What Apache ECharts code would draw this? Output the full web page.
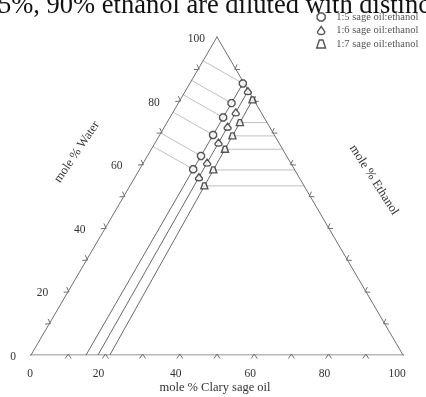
<!DOCTYPE html>
<html>
<head>
<meta charset="utf-8">
<script src="https://cdn.jsdelivr.net/npm/echarts@6/dist/echarts.min.js"></script>
<style>
html,body{margin:0;padding:0;background:#fff;overflow:hidden;}
#chart{width:426px;height:397px;}
</style>
</head>
<body>
<div id="chart"></div>
<script>
// ---- data (ternary: S = mole % Clary sage oil, W = mole % Water) ----
var seriesNames = ['1:5 sage oil:ethanol', '1:6 sage oil:ethanol', '1:7 sage oil:ethanol'];
var lineBaseSage = [14.8, 18.0, 21.2];        // where each dilution line meets the sage-oil axis
var sage15 = [14.25, 14.3, 14.3, 14.35, 14.4, 14.4];
var water15 = [85.4, 79.2, 74.7, 69.2, 62.6, 58.4];
var sage16 = [16.8, 16.9, 16.95, 17.0, 17.1, 17.2];
var water16 = [83.0, 76.3, 71.8, 66.8, 60.5, 55.9];
var sage17 = [19.45, 19.6, 19.7, 19.8, 19.9, 20.0];
var water17 = [80.2, 73.1, 68.9, 64.7, 58.2, 53.2];
var waterTickLabels = ['0', '20', '40', '60', '80', '100'];
var sageTickLabels = ['0', '20', '40', '60', '80', '100'];
var headerText = '5%, 90% ethanol are diluted with distinc';

// ternary -> cartesian (x = S + W/2, y = W)
function tc(S, W) { return [S + W / 2, W]; }

var sageSets = [sage15, sage16, sage17];
var waterSets = [water15, water16, water17];
var font = '"Liberation Serif", "DejaVu Serif", serif';
var axisGray = '#707070';

var symbols = [
  'path://M3,0 L7,0 L10,3 L10,7 L7,10 L3,10 L0,7 L0,3 Z',
  'path://M5,0 L9.5,6.5 Q10,10 5,10 Q0,10 0.5,6.5 Z',
  'path://M3,0 L7,0 L10,9 L0,9 Z'
];

var chart = echarts.init(document.getElementById('chart'), null, {renderer: 'canvas'});

// edges (extended a bit past the vertices -> X crosses)
var ext = 3;
var edges = [
  [tc(-ext, 0), tc(100 + ext, 0)],
  [tc(0, -ext), tc(0, 100 + ext)],
  [tc(100 + ext, -ext), tc(-ext, 100 + ext)]
];

var series = [];
edges.forEach(function (e) {
  series.push({type: 'line', data: e, symbol: 'none', silent: true,
    lineStyle: {color: axisGray, width: 1}, z: 2});
});

// tick chevrons
var tickData = [];
for (var v = 10; v <= 90; v += 10) {
  tickData.push([tc(v, 0)[0], tc(v, 0)[1], 0]);
  tickData.push([tc(0, v)[0], tc(0, v)[1], 1]);
  tickData.push([tc(100 - v, v)[0], tc(100 - v, v)[1], 2]);
}
series.push({
  type: 'custom', silent: true, z: 3, data: tickData,
  renderItem: function (params, api) {
    var c = api.coord([api.value(0), api.value(1)]);
    var edge = api.value(2);
    var a, b;
    if (edge === 0) { a = api.coord([0, 0]); b = api.coord([100, 0]); }
    else if (edge === 1) { a = api.coord([0, 0]); b = api.coord([50, 100]); }
    else { a = api.coord([100, 0]); b = api.coord([50, 100]); }
    var dx = b[0] - a[0], dy = b[1] - a[1], L = Math.sqrt(dx * dx + dy * dy);
    var t = [dx / L, dy / L];
    var n = [-t[1], t[0]];
    var cen = api.coord([50, 33]);
    if ((cen[0] - c[0]) * n[0] + (cen[1] - c[1]) * n[1] < 0) n = [-n[0], -n[1]];
    var apex = [c[0] + n[0] * 1, c[1] + n[1] * 1];
    var a1 = [c[0] - n[0] * 3.5 + t[0] * 3, c[1] - n[1] * 3.5 + t[1] * 3];
    var a3 = [c[0] - n[0] * 3.5 - t[0] * 3, c[1] - n[1] * 3.5 - t[1] * 3];
    return {type: 'polyline', shape: {points: [a1, apex, a3]},
      style: {stroke: axisGray, lineWidth: 1, fill: null}};
  }
});

// dilution lines: from base on sage axis through the top point
lineBaseSage.forEach(function (s, i) {
  series.push({type: 'line', data: [tc(s, 0), tc(sageSets[i][0], waterSets[i][0])],
    symbol: 'none', silent: true, lineStyle: {color: '#6a6a6a', width: 1}, z: 2});
});

// tie lines: circles -> left edge, triangles -> right edge
var tie = [];
water15.forEach(function (w, k) {
  var s = sage15[k];
  tie.push([tc(s, w), tc(0, w + s / 2)]);
});
water17.forEach(function (w, k) {
  tie.push([tc(sage17[k], w), tc(100 - w, w)]);
});
tie.forEach(function (seg) {
  series.push({type: 'line', data: seg, symbol: 'none', silent: true,
    lineStyle: {color: '#b0b0b0', width: 0.8}, z: 1});
});

// markers
waterSets.forEach(function (ws, i) {
  series.push({
    name: seriesNames[i], type: 'scatter', z: 5,
    symbol: symbols[i], symbolSize: i === 2 ? [7, 6] : 7,
    itemStyle: {color: '#fff', borderColor: '#2b2b2b', borderWidth: 1.4},
    data: ws.map(function (w, k) { return tc(sageSets[i][k], w); })
  });
});

// tick labels
var labelData = [];
waterTickLabels.forEach(function (l, i) { var p = tc(0, i * 20); labelData.push([p[0], p[1], 0, i]); });
sageTickLabels.forEach(function (l, i) { labelData.push([i * 20, 0, 1, i]); });
series.push({
  type: 'custom', silent: true, z: 4, data: labelData,
  renderItem: function (params, api) {
    var c = api.coord([api.value(0), api.value(1)]);
    var kind = api.value(2), idx = api.value(3);
    var txt = kind === 0 ? waterTickLabels[idx] : sageTickLabels[idx];
    var x, y, align;
    if (kind === 0) {
      align = 'right';
      x = c[0] - (idx === 5 ? 12 : idx === 0 ? 15 : 20);
      y = c[1] + 2;
    } else {
      align = 'center';
      x = c[0] - (idx === 0 ? 1 : idx === 1 ? 7 : idx === 5 ? 6 : 4);
      y = c[1] + 19;
    }
    return {type: 'text', style: {text: txt, x: x, y: y, fill: '#333',
      font: '11.5px ' + font, align: align, verticalAlign: 'middle'}};
  }
});

chart.setOption({
  animation: false,
  backgroundColor: '#fff',
  grid: {left: 31, right: 23, top: 37, bottom: 42},
  xAxis: {type: 'value', min: 0, max: 100, show: false},
  yAxis: {type: 'value', min: 0, max: 100, show: false},
  legend: {
    orient: 'vertical', left: 316, top: 11, padding: 0,
    itemWidth: 10, itemHeight: 8, itemGap: 1.5,
    data: seriesNames.map(function (n, i) { return {name: n, icon: symbols[i]}; }),
    textStyle: {fontFamily: font, fontSize: 10.5, lineHeight: 12, color: '#555', padding: [0, 0, 0, 5]},
    itemStyle: {color: '#fff', borderColor: '#2b2b2b', borderWidth: 1.4}
  },
  graphic: [
    {type: 'text', x: -2, y: -7, style: {text: headerText, font: '26.5px ' + font, fill: '#111'}},
    {type: 'text', x: 215, y: 388, style: {text: 'mole % Clary sage oil', font: '12.5px ' + font, fill: '#333', align: 'center', verticalAlign: 'middle'}},
    {type: 'text', x: 77, y: 152, rotation: 56 * Math.PI / 180, style: {text: 'mole % Water', font: '12.5px ' + font, fill: '#333', align: 'center', verticalAlign: 'middle'}},
    {type: 'text', x: 374, y: 180, rotation: -57.5 * Math.PI / 180, style: {text: 'mole % Ethanol', font: '12.5px ' + font, fill: '#333', align: 'center', verticalAlign: 'middle'}}
  ],
  series: series
});
</script>
</body>
</html>
